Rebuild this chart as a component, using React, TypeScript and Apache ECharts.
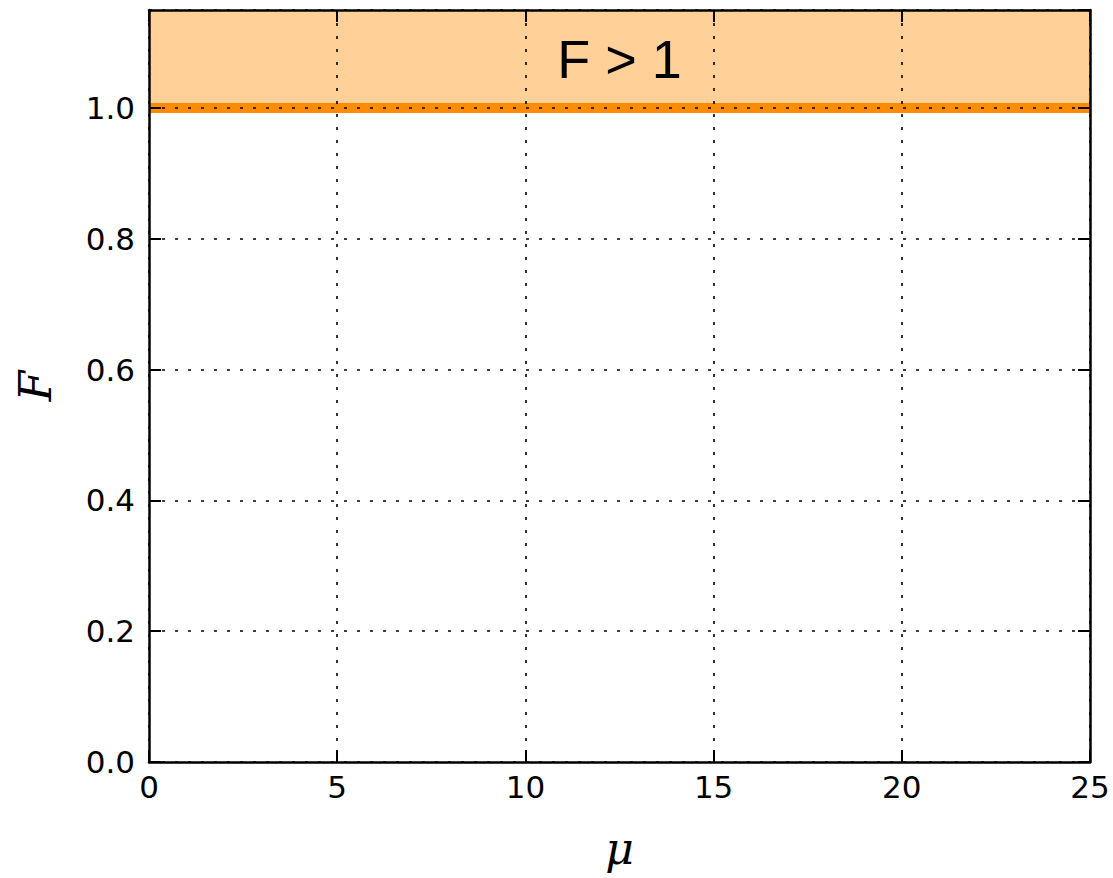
import React, { useEffect, useRef } from "react";
import * as echarts from "echarts";

const xTicks = [0, 5, 10, 15, 20, 25];
const yTicks = [0, 0.2, 0.4, 0.6, 0.8, 1.0];
const thresholdLine = [
  [0, 1.0],
  [25, 1.0],
];
const regionFrom = 1.0;
const regionTo = 1.15;
const regionLabel = "F > 1";
const xName = "μ";
const yName = "F";

export default function App() {
  const ref = useRef<HTMLDivElement>(null);
  useEffect(() => {
    const chart = echarts.init(ref.current!, undefined, { renderer: "svg" });
    const tickFont = { fontFamily: "DejaVu Sans", fontSize: 31, color: "#000" };
    const splitStyle = {
      show: true,
      lineStyle: { color: "#000", width: 1.6, type: [3, 10] as any },
    };
    const lineBox = { show: true, onZero: false, lineStyle: { color: "#000", width: 2.5 } };
    const tick = { show: true, inside: true, length: 12, lineStyle: { color: "#000", width: 2 } };
    const nameFont = { fontFamily: "DejaVu Serif", fontStyle: "italic", fontSize: 44, color: "#000" };
    chart.setOption({
      animation: false,
      backgroundColor: "#fff",
      grid: {
        left: 149,
        top: 10,
        width: 941,
        height: 752,
        containLabel: false,
        outerBoundsMode: "none",
      },
      xAxis: [
        {
          type: "value",
          min: xTicks[0],
          max: xTicks[xTicks.length - 1],
          interval: 5,
          z: 5,
          position: "bottom",
          axisLine: lineBox,
          axisTick: tick,
          axisLabel: { ...tickFont, margin: 9 },
          splitLine: splitStyle,
          name: xName,
          nameLocation: "middle",
          nameGap: 64,
          nameTextStyle: nameFont,
        },
        {
          type: "value",
          min: xTicks[0],
          max: xTicks[xTicks.length - 1],
          interval: 5,
          z: 5,
          position: "top",
          axisLine: lineBox,
          axisTick: tick,
          axisLabel: { show: false },
          splitLine: { show: false },
        },
      ],
      yAxis: [
        {
          type: "value",
          min: 0,
          max: regionTo,
          interval: 0.2,
          z: 5,
          position: "left",
          axisLine: lineBox,
          axisTick: tick,
          axisLabel: {
            ...tickFont,
            margin: 14,
            showMaxLabel: false,
            formatter: (v: number) =>
              yTicks.some((t) => Math.abs(t - v) < 1e-9) ? v.toFixed(1) : "",
          },
          splitLine: splitStyle,
          name: yName,
          nameLocation: "middle",
          nameGap: 92,
          nameRotate: 90,
          nameTextStyle: nameFont,
        },
        {
          type: "value",
          min: 0,
          max: regionTo,
          interval: 0.2,
          z: 5,
          position: "right",
          axisLine: lineBox,
          axisTick: tick,
          axisLabel: { show: false },
          splitLine: { show: false },
        },
      ],
      series: [
        {
          type: "line",
          data: thresholdLine,
          symbol: "none",
          z: 2,
          lineStyle: { color: "#ff8c00", width: 10 },
          markArea: {
            silent: true,
            itemStyle: { color: "#ffd199" },
            label: {
              show: true,
              position: "inside",
              fontFamily: "Liberation Sans",
              fontSize: 54,
              color: "#000",
            },
            data: [[{ yAxis: regionFrom, name: regionLabel }, { yAxis: regionTo }]],
          },
        },
      ],
    });
    return () => chart.dispose();
  }, []);
  return (
    <div
      ref={ref}
      style={{ position: "fixed", left: 0, top: 0, width: 1113, height: 878 }}
    />
  );
}
